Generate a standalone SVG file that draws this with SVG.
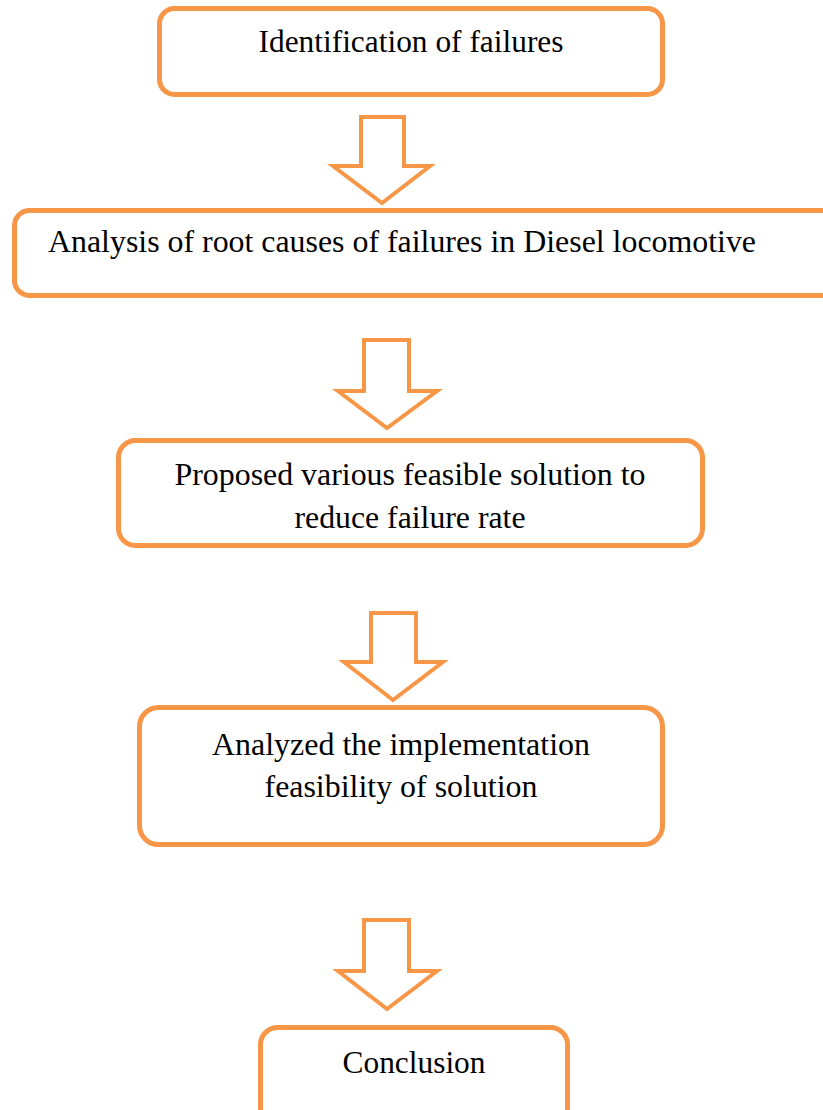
<svg xmlns="http://www.w3.org/2000/svg" width="823" height="1110" viewBox="0 0 823 1110">
<style>
.box{fill:#ffffff;stroke:#F79646;stroke-width:5}
.arr{fill:#ffffff;stroke:#F79646;stroke-width:4;stroke-linejoin:miter}
.t{font-family:"Liberation Serif","Times New Roman",serif;font-size:31.5px;fill:#000000}
.c{text-anchor:middle}
</style>
<rect width="823" height="1110" fill="#ffffff"/>
<g id="connectors">
<polygon class="arr" points="361,117 404,117 404,166 430,166 382,203 333,166 361,166"/>
<polygon class="arr" points="364,340 409,340 409,391 437,391 387,428 338,391 364,391"/>
<polygon class="arr" points="371,613 416,613 416,662 443,662 393,700 344,662 371,662"/>
<polygon class="arr" points="364,920 409,920 409,971 437,971 387,1009 338,971 364,971"/>
</g>
<g id="node1">
<rect class="box" x="159.5" y="8.5" width="503" height="86" rx="15"/>
<text class="t c" x="411" y="52" textLength="305" lengthAdjust="spacingAndGlyphs">Identification of failures</text>
</g>
<g id="node2">
<rect class="box" x="14.5" y="210.5" width="840" height="85" rx="15"/>
<text class="t" x="48" y="252" textLength="708" lengthAdjust="spacingAndGlyphs">Analysis of root causes of failures in Diesel locomotive</text>
</g>
<g id="node3">
<rect class="box" x="118.5" y="440.5" width="584" height="105" rx="17"/>
<text class="t c" x="410" y="485" textLength="471" lengthAdjust="spacingAndGlyphs">Proposed various feasible solution to</text>
<text class="t c" x="410" y="528" textLength="231" lengthAdjust="spacingAndGlyphs">reduce failure rate</text>
</g>
<g id="node4">
<rect class="box" x="139.5" y="707.5" width="523" height="137" rx="19"/>
<text class="t c" x="401" y="755" textLength="378" lengthAdjust="spacingAndGlyphs">Analyzed the implementation</text>
<text class="t c" x="401" y="797" textLength="273" lengthAdjust="spacingAndGlyphs">feasibility of solution</text>
</g>
<g id="node5">
<rect class="box" x="260.5" y="1027.5" width="307" height="100" rx="17"/>
<text class="t c" x="414" y="1073" textLength="143" lengthAdjust="spacingAndGlyphs">Conclusion</text>
</g>
</svg>
